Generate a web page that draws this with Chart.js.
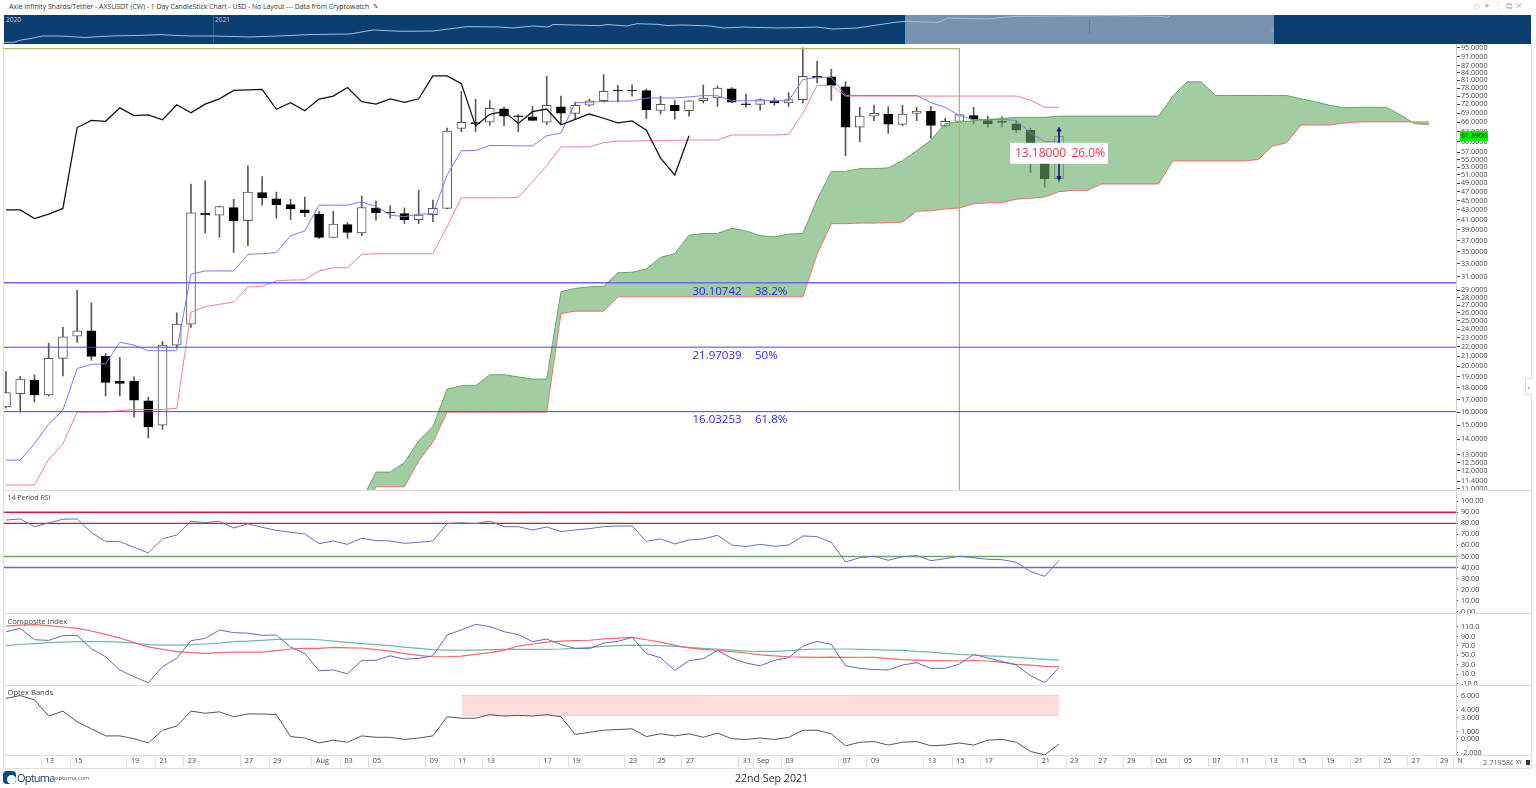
<!DOCTYPE html>
<html>
<head>
<meta charset="utf-8">
<title>AXSUSDT</title>
<script src="https://cdn.jsdelivr.net/npm/chart.js@4"></script>
<style>
  html, body { margin: 0; padding: 0; background: #fff; overflow: hidden; }
  body { width: 1536px; height: 788px; position: relative; font-family: "Open Sans", sans-serif; color: #444; }
  canvas { position: absolute; left: 0; }
  .abs { position: absolute; white-space: nowrap; }
  .rule { position: absolute; background: #dedede; }
</style>
</head>
<body>
<div class="abs" style="left:9px;top:2px;font-size:6.85px;line-height:10px;color:#333">Axie Infinity Shards/Tether - AXSUSDT (CW) - 1 Day CandleStick Chart - USD - No Layout --- Data from Cryptowatch &nbsp;✎</div>
<div class="abs" style="left:1473px;top:0;font-size:9px;line-height:12px;color:#c4c4c4;letter-spacing:3px">◇✦⋮⧉✕</div>

<!-- overview strip -->
<div class="abs" style="left:4px;top:15px;width:1527px;height:29px;background:#0a3d70"></div>
<div class="abs" style="left:905px;top:15px;width:369px;height:29px;background:#7694b2"></div>
<div class="abs" style="left:213px;top:15px;width:1px;height:29px;background:#35648f"></div>
<div class="abs" style="left:1089px;top:20px;width:1px;height:14px;background:#5f7f9d"></div>
<div class="abs" style="left:1271px;top:27px;width:3px;height:6px;background:#8a97a8"></div>
<div class="abs" style="left:6px;top:14px;font-size:6.5px;line-height:11px;color:#c3d0dd">2020</div>
<div class="abs" style="left:215px;top:14px;font-size:6.5px;line-height:11px;color:#c3d0dd">2021</div>
<canvas id="overview" width="1536" height="29" style="top:15px"></canvas>

<canvas id="main" width="1536" height="446" style="top:44px"></canvas>
<canvas id="rsi" width="1536" height="122" style="top:491px"></canvas>
<canvas id="composite" width="1536" height="71" style="top:614px"></canvas>
<canvas id="optex" width="1536" height="81" style="top:686px"></canvas>

<!-- panel rules -->
<div class="rule" style="left:3px;top:44px;width:1px;height:724px"></div>
<div class="rule" style="left:1531px;top:44px;width:1px;height:724px"></div>
<div class="rule" style="left:4px;top:490px;width:1527px;height:1px"></div>
<div class="rule" style="left:4px;top:613px;width:1527px;height:1px"></div>
<div class="rule" style="left:4px;top:685px;width:1527px;height:1px"></div>
<div class="rule" style="left:4px;top:755px;width:1527px;height:1px"></div>
<div class="rule" style="left:4px;top:768px;width:1527px;height:1px"></div>

<div class="abs" style="left:7.5px;top:493px;font-size:7px;line-height:10px">14 Period RSI</div>
<div class="abs" style="left:7.5px;top:616px;font-size:7.6px;line-height:10px">Composite Index</div>
<div class="abs" style="left:7.5px;top:687px;font-size:7.6px;line-height:10px">Optex Bands</div>

<!-- last price tag and small chrome -->
<div class="abs" style="left:1460px;top:131px;width:28px;height:10px;background:#00f000;color:#111;font-size:7px;line-height:10px;text-align:center">61.6900</div>
<div class="abs" style="left:1525px;top:378px;width:6px;height:15px;background:#fff;border:1px solid #ddd;border-right:0;font-size:8px;line-height:15px;color:#555;text-align:center">‹</div>
<div class="abs" style="left:1483px;top:757px;width:30px;overflow:hidden;font-size:7.4px;line-height:11px;color:#555">2.7195802</div>
<div class="abs" style="left:1516px;top:757px;font-size:5px;line-height:11px;color:#333">XY</div>
<div class="abs" style="left:1526px;top:760px;width:4px;height:5px;background:#333"></div>

<!-- footer -->
<div class="abs" style="left:3px;top:771px;width:13px;height:13px;border-radius:4px;background:#0a4a80"></div>
<div class="abs" style="left:7px;top:775px;width:9px;height:9px;border-radius:50%;background:#fff"></div>
<div class="abs" style="left:17px;top:771px;font-size:11px;line-height:14px;color:#1d3f66;letter-spacing:-.8px">Optuma</div>
<div class="abs" style="left:55px;top:774px;font-size:5.8px;line-height:9px;color:#555">optuma.com</div>
<div class="abs" style="left:735px;top:771px;font-size:10.6px;line-height:14px;color:#333">22nd Sep 2021</div>

<script>
// bar 0 is 10 Jul 2021, bar 74 is 22 Sep 2021, the rest is the projected cloud
const candleOpen = [16.4,17.5,18.7,17.4,20.8,23.2,23.8,21,18.6,18.6,16.9,15,22.2,24.6,42.3,41.9,43.5,40.8,46.8,45.4,44.1,43,42.1,37.6,40,38.4,43.4,42.5,42.2,41,42,43.3,64,65.9,66,70.5,68.1,67.8,66,71.2,68.9,71.7,73.3,77.1,77.1,77,69.9,71.7,69.8,73.3,74.3,77.7,72.2,72,73.2,72.5,73.7,82.6,82.4,78.5,64.4,68,68.7,65.3,68.9,69.6,64.8,66.3,68.2,66.5,66.4,65.5,63.4,57,50.1];
const candleClose = [17.6,18.8,17.4,20.8,23.1,23.8,21,18.5,18.4,16.95,14.9,22.2,24.6,42.4,42,43.7,40.8,46.9,45.6,44.1,43.2,42.4,37.6,40.1,38.5,43.5,42.4,42.4,41,41.9,43.3,63.2,66,65.5,70.6,68,67.8,66.6,71.7,69,71.7,73.3,76.8,76.9,76.9,70.2,72,69.8,73.3,74.3,78,72.8,71.9,73.7,72.5,73.7,82.6,82,79,64.4,68,68.9,65.4,68.7,69.7,65,66.3,68.5,67,65.5,65.9,63.5,58,50.1,61.69];
const candleHigh = [19.5,19.05,19.2,22.4,24.2,29,27.3,21.3,20.9,19,17.2,22.6,26,48.8,49.6,43.8,45.3,53.3,50.6,46.9,45.3,45.8,42.7,42.7,40.4,46,44.9,43.9,43.4,47.3,45.1,64.1,76.7,73.8,73.4,71.1,68.5,71.3,82.6,75,72.8,73.9,83.3,79,79.2,77.7,75,73.4,73.4,79.2,78.8,78.2,75.7,74,74.3,76.3,95,88.9,85.5,80.5,71,71.8,71.2,71.7,70.9,71.3,67.3,68.6,71,68,67.8,66.6,64,58,63.2];
const candleLow = [16.3,16,16.8,17.3,19.1,22.5,20.6,17.3,17.3,15.6,14.1,14.7,21.9,24.2,38.4,37.6,34.9,36.1,44,41.3,41,41.6,37.4,37.5,37.4,37.9,40.9,41.3,40.2,40.2,40.6,43.2,63,63,65,64.9,63,66.5,65.2,65.2,67.2,71.4,72.8,72.8,75,67.2,68.7,67,68,72.5,71.3,72.6,71,70,71.7,71.3,72.5,80,73.4,56,60,66.5,62.5,64.9,66.5,61,64.5,66,65.5,64.4,64.5,62.7,51.6,48,49.3];

const tenkan = [12.65,12.65,13.7,15.1,16.15,19.8,20.2,20.25,22.5,22.2,21.6,21.6,21.6,31.4,31.9,31.9,31.9,34.6,34.7,34.9,37.9,38.8,44,44,44,44.7,43.7,41.9,41.6,42.1,42.2,51,57.4,57.5,58.9,58.9,58.8,58.8,61.8,62.6,72.6,72.8,73,73.2,73.2,74.3,74.3,74.3,74.7,75.2,75.1,73.3,73.3,73.3,73.3,73.3,81.3,82.2,82.2,75.3,75.2,75.2,75.2,75.2,75.2,72.6,71,68.2,66.8,66.9,66.9,66.6,62.6,60,60];
const kijun = [11.2,11.2,11.2,12.7,13.7,16,16,16,16.1,16.2,16.2,16.2,16.3,26.1,26.8,27.1,27.4,29.5,29.6,30.4,30.5,30.55,31.9,32.4,32.4,34.6,34.7,34.7,34.7,34.7,34.7,39.6,45.6,45.6,45.6,45.6,45.7,49.3,53.4,58.5,58.5,58.5,59.7,60.2,60.2,60.3,60.3,60.4,60.5,60.5,60.5,62,62,62,62,62.2,68.9,79,79,75,75,75,75,75,75,75,75,75,75,75,75,75,73.5,71,71];
const chikou = [43,43,41.2,42.1,43.3,64.3,66.6,66.3,70.8,68.2,68.4,66.8,71.9,69.1,72.1,74,77.1,77.3,77.5,70.3,72.6,69.8,73.9,75,78.2,73,72.1,74,72.7,74,82.8,82.8,79.7,64.8,68.6,69.6,65.6,69.5,70.4,65.2,66.9,68.7,67.3,65.8,66.4,63.5,55.4,51,61.8];
const cloudStart = 25;
const senkouA = [10.4,11.93,11.93,12.5,13.9,14.9,17.9,18.2,18.2,19.2,19.2,19,18.8,18.8,28.8,29.3,29.5,29.6,31.6,31.7,32.2,34.1,34.7,38,38.3,38.3,39.3,38.8,37.9,37.7,38.2,38.3,45.2,51.9,51.9,52.6,52.6,52.8,54.7,57.4,60.5,65.6,66,66.5,66.9,67.2,67.6,67.6,67.6,68,68,68,68,68,68,68,68,75,80.4,80.4,75.2,75.2,75.2,75.2,75.2,75.2,74,73,71.7,70.8,71,71,71,68.4,65.5,65.3];
const senkouB = [9.5,11.1,11.1,11.1,12.6,13.8,16,16,16,16,16,16,16,16,25.9,26.2,26.2,26.2,28.1,28.1,28.1,28.1,28.1,28.1,28.1,28.1,28.1,28.1,28.1,28.1,28.1,28.1,34.6,40.2,40.2,40.3,40.3,40.4,40.5,42.7,42.8,43.2,43.4,44.3,44.5,44.6,45.3,45.5,45.8,47,47.3,47.3,48.8,48.8,48.8,48.8,48.8,54.6,54.6,54.6,54.6,54.6,54.6,55,58.7,59.7,65.1,65.1,65.1,65.7,66.1,66.1,66.1,66.1,66.1,66.1];

const fibLevels = [30.10742, 21.97039, 16.03253];
const fibPercents = ['38.2%', '50%', '61.8%'];
const boxBar = 67;
const boxTop = 94.6;
const measureFrom = 63.6;
const measureTo = 50.3;
const measureText = ['13.18000', '26.0%'];

const rsiValues = [83,84,77,80.4,83.7,84,71.6,63.7,63.4,58.3,53.2,65.9,69.5,81.9,80.7,81.9,75.8,79.5,76.4,73.7,71.9,70.4,61.6,64,61,66.5,64.4,64,61.9,62.8,64,79.8,80.4,79.8,81.9,77,77,74,76.7,72.5,74,75.2,77,77.6,77.6,63.7,65.9,61.3,65,65.9,69.2,60.4,58.9,61,59.2,60.4,68.6,68,62.8,45,48.9,50.2,46.5,49.8,50.8,46.2,48,50.2,48.9,47.4,47.1,44.7,36.3,32,46.5];
const rsiLevels = [90, 80, 50, 40];

const compositeValues = [100,107,83,81.7,91.6,92.3,64,47,19,4.8,-8,26,43.6,81,86,103.6,98,97,92.3,93,67.6,54,17.5,19,11,39.4,39.4,49,42,43.6,49,93,104,115.6,111,100,94,79,84.5,73,64.8,64,76,79.6,88,54,45,18,38.7,43,60.5,43.6,33.7,28,39.4,45,69.7,79.6,73,28,22.5,20,19,29.5,34.4,22.5,22.5,31.6,52,44.3,37,29.5,7,-8,24];
const compositeFast = [112,114,115,113,110,107,101.5,94.4,86.6,76.8,68,62.7,57.7,55.6,54,55.6,57,57,57,59.8,63.4,64.8,64.8,67,66,65.5,62,59,53.5,50,47,47,48.5,52,55.6,60.5,69.7,74,78,80,81,82,85,86.6,88,83,78,71,66,62.7,60.5,58,55,51,49,47,46.4,45.7,46.4,45.7,46,45.7,43,40.8,40,38.7,38.7,38,39.4,38,35,31,29.5,26.7,26];
const compositeSlow = [70.4,73,74.7,76.8,78,79,79,79,78,76,72.5,71.8,71.8,72.5,74,76,79,80,81.7,83.8,84.5,84.5,83,80,77.5,74.7,72.5,70.4,67.6,64.8,62,61,61,61,62,62.7,62.7,62.7,62.7,63.4,64.8,66.9,69,70.4,71.8,71,70.4,69,67,64.8,63.4,61,59,58.4,58.4,59.8,62,63.4,63.4,63.4,62.7,62,61,60.5,58.4,57,54,52,50.7,49,48,45.7,43.6,41.5,40];

const optexValues = [5.7,6.1,5.5,3.2,3.9,2.4,1.4,.4,.4,0,-.6,1.2,1.8,3.9,3.6,3.8,3.1,3.5,3.5,3.4,.3,.1,-.6,-.2,-.5,.4,.2,.2,-.1,.1,.4,3.1,2.9,2.9,3.4,3.2,3.3,3.2,3.4,3.1,.6,.9,1.2,1.3,1.4,.3,.7,.4,.7,.2,.8,0,-.1,.1,-.1,.2,1.2,1.2,.7,-1,-.5,-.4,-.9,-.5,-.4,-1,-.9,-.6,-.9,-.2,-.1,-.5,-1.8,-2.3,-.75];
const optexBandBars = [32, 74];
const optexBandTop = 6.1;
const optexBandBottom = 3.3;

const priceTicks = [95,91,87,84,81,78,75,72,69,66,63,60,57,55,53,51,49,47,45,43,41,39,37,35,33,31,29,28,27,26,25,24,23,22,21,20,19,18,17,16,15,14,13,12.5,12,11.4,11];
const rsiTicks = [100,90,80,70,60,50,40,30,20,10,0];
const compositeTicks = [110,90,70,50,30,10,-10];
const optexTicks = [6,4,3,1,0,-2];

const dateTickBars = [2.5,4.5,8.5,10.5,12.5,16.5,18.5,21.5,23.5,25.5,29.5,31.5,33.5,37.5,39.5,43.5,45.5,47.5,51.5,52.5,54.5,58.5,60.5,64.5,66.5,68.5,72.5,74.5,76.5,78.5,80.5,82.5,84.5,86.5,88.5,90.5,92.5,94.5,96.5,98.5,100.5,101.7];
const dateTickLabels = ['13','15','19','21','23','27','29','Aug','03','05','09','11','13','17','19','23','25','27','31','Sep','03','07','09','13','15','17','21','23','27','29','Oct','05','07','11','13','15','19','21','25','27','29','N'];

const overviewTime = [4,14,21,30,42,60,85,110,135,160,190,213,250,290,310,350,373,400,433,467,500,513,533,548,553,600,607,627,637,657,667,683,710,723,743,777,800,817,833,857,897,907,927,938,948,987,1013,1063,1110,1163,1167,1170];
const overviewLevel = [1.7,1.7,4,5.3,8,8,6.5,8,8.5,9.3,8,8,7,8.5,9.5,10,14,12.7,13,17.3,17,16,18,17,19.5,18.3,19.5,18,20.3,19.7,18.5,19,18,16,17,16,16.5,17,15,16,22,22.5,22,21.5,26,25,27.5,28,28.5,27.5,26.5,28];

// chart helpers
const xMin = -0.14;
const xMax = 101.9;
const cloudColor = 'rgba(100,170,100,0.6)';

function series(values, start, color, width, order) {
  return {
    type: 'line',
    data: values.map((v, i) => ({ x: start + i, y: v })),
    borderColor: color,
    borderWidth: width,
    pointRadius: 0,
    tension: 0,
    fill: false,
    order: order
  };
}

function flatLine(value, fromBar, toBar, color, width, order) {
  return {
    type: 'line',
    data: [{ x: fromBar, y: value }, { x: toBar, y: value }],
    borderColor: color,
    borderWidth: width,
    pointRadius: 0,
    fill: false,
    order: order
  };
}

function yAxis(ticks, decimals, type, min, max, tickLength, padding) {
  return {
    type: type,
    position: 'right',
    min: min,
    max: max,
    afterBuildTicks: scale => { scale.ticks = ticks.map(v => ({ value: v })); },
    afterFit: scale => { scale.width = 80; scale.paddingTop = 0; scale.paddingBottom = 0; },
    border: { color: '#cfcfcf' },
    grid: { drawOnChartArea: false, tickLength: tickLength, color: '#444' },
    ticks: {
      autoSkip: false,
      maxRotation: 0,
      padding: padding,
      color: '#444',
      font: { family: 'Open Sans', size: 7.2 },
      callback: v => Number(v).toFixed(decimals)
    }
  };
}

function hiddenX() {
  return {
    type: 'linear',
    min: xMin,
    max: xMax,
    offset: false,
    display: false,
    grid: { offset: false },
    afterFit: scale => { scale.paddingLeft = 0; scale.paddingRight = 0; }
  };
}

function panel(id, datasets, scales, plugins) {
  return new Chart(document.getElementById(id), {
    type: 'line',
    data: { datasets: datasets },
    options: {
      responsive: false,
      animation: false,
      events: [],
      layout: { autoPadding: false, padding: { left: 4, right: 0, top: 0, bottom: 0 } },
      plugins: { legend: { display: false }, tooltip: { enabled: false } },
      scales: scales
    },
    plugins: plugins || []
  });
}

// fib labels and the measure box sit on top of the price panel
const priceLabels = {
  id: 'priceLabels',
  afterDatasetsDraw(chart) {
    const ctx = chart.ctx;
    const yScale = chart.scales.y;
    const xScale = chart.scales.x;
    ctx.save();
    ctx.font = '11.5px "Open Sans"';
    ctx.textBaseline = 'middle';
    ctx.fillStyle = '#2a2ae6';
    fibLevels.forEach((level, i) => {
      const y = yScale.getPixelForValue(level) + 8.5;
      ctx.textAlign = 'left';
      ctx.fillText(level.toFixed(5), 692.5, y);
      ctx.fillText(fibPercents[i], 755, y);
    });
    const cx = xScale.getPixelForValue(74);
    const cy = (yScale.getPixelForValue(measureFrom) + yScale.getPixelForValue(measureTo)) / 2;
    ctx.fillStyle = '#fff';
    ctx.fillRect(cx - 49, cy - 11, 98, 21);
    ctx.fillStyle = '#f23a48';
    ctx.font = '12px "Open Sans"';
    ctx.fillText(measureText[0], cx - 44, cy);
    ctx.fillText(measureText[1], cx + 12.5, cy);
    ctx.restore();
  }
};

const bars = candleOpen.map((o, i) => i);

const mainDatasets = [
  {
    type: 'bar',
    data: bars.map(i => ({ x: i, y: [candleLow[i], candleHigh[i]] })),
    backgroundColor: '#5a5a5a',
    barThickness: 1,
    grouped: false,
    order: 10
  },
  {
    type: 'bar',
    data: bars.map(i => ({ x: i, y: [candleOpen[i], candleClose[i]] })),
    backgroundColor: bars.map(i => candleClose[i] >= candleOpen[i] ? '#fff' : '#000'),
    borderColor: bars.map(i => candleClose[i] >= candleOpen[i] ? '#555' : '#000'),
    borderWidth: 1,
    borderSkipped: false,
    barThickness: 9,
    grouped: false,
    order: 9
  },
  Object.assign(series(senkouA, cloudStart, '#62aa62', 1, 8), {
    fill: { target: '+1', above: cloudColor, below: cloudColor }
  }),
  series(senkouB, cloudStart, '#f27070', 1, 7),
  series(tenkan, 0, '#7a7af8', 1, 5),
  series(kijun, 0, '#f27f9c', 1, 5),
  series(chikou, 0, '#111', 1.25, 4),
  {
    type: 'line',
    data: [{ x: xMin, y: boxTop }, { x: boxBar, y: boxTop }, { x: boxBar, y: 10 }],
    borderColor: '#b4b46a',
    borderWidth: 1.3,
    pointRadius: 0,
    fill: false,
    order: 6
  },
  {
    type: 'line',
    data: [{ x: 74, y: measureFrom }, { x: 74, y: measureTo }],
    borderColor: '#10108c',
    borderWidth: 0.8,
    pointRadius: 2.4,
    pointStyle: 'triangle',
    pointRotation: [0, 180],
    pointBackgroundColor: '#10108c',
    pointBorderColor: '#10108c',
    fill: false,
    order: 3
  }
];
fibLevels.forEach((level, i) => {
  mainDatasets.push(flatLine(level, xMin, xMax, i === 0 ? '#6a6af4' : '#4444f0', i === 0 ? 1.4 : 1, 2));
});

panel('main', mainDatasets, {
  x: hiddenX(),
  y: yAxis(priceTicks, 4, 'logarithmic', 10.93, 96.75, 4, 1)
}, [priceLabels]);

const rsiColors = ['#d8143c', '#d8143c', '#5fae62', '#6a6ac4'];
const rsiDatasets = rsiLevels.map((level, i) => flatLine(level, xMin, xMax, rsiColors[i], 1.4, 3));
rsiDatasets.push(series(rsiValues, 0, '#6c6cc0', 1, 1));
panel('rsi', rsiDatasets, {
  x: hiddenX(),
  y: yAxis(rsiTicks, 2, 'linear', -1.2, 109.3, 2, 3)
});

panel('composite', [
  series(compositeSlow, 0, '#6db9ad', 1.2, 3),
  series(compositeFast, 0, '#f26a6a', 1.2, 2),
  series(compositeValues, 0, '#6868bc', 1, 1)
], {
  x: hiddenX(),
  y: yAxis(compositeTicks, 1, 'linear', -12.75, 137.5, 2, 3)
});

panel('optex', [
  Object.assign(flatLine(optexBandTop, optexBandBars[0], optexBandBars[1], '#ffc4c4', 1, 3), {
    fill: { target: '+1', above: 'rgba(255,190,190,0.5)', below: 'rgba(255,190,190,0.5)' }
  }),
  flatLine(optexBandBottom, optexBandBars[0], optexBandBars[1], '#ffc4c4', 1, 3),
  series(optexValues, 0, '#555', 1, 1)
], {
  x: {
    type: 'linear',
    min: xMin,
    max: xMax,
    afterBuildTicks: scale => { scale.ticks = dateTickBars.map(v => ({ value: v })); },
    afterFit: scale => { scale.height = 12; scale.paddingLeft = 0; scale.paddingRight = 0; },
    border: { color: '#dedede' },
    grid: { drawOnChartArea: false, tickLength: 12, color: '#dedede' },
    ticks: {
      autoSkip: false,
      maxRotation: 0,
      align: 'start',
      labelOffset: 4,
      padding: -10,
      color: '#444',
      font: { family: 'Open Sans', size: 7.2 },
      callback: v => dateTickLabels[dateTickBars.indexOf(v)]
    }
  },
  y: yAxis(optexTicks, 3, 'linear', -2.3, 7.45, 2, 3)
});

// overview strip across the top
new Chart(document.getElementById('overview'), {
  type: 'line',
  data: {
    datasets: [{
      data: overviewTime.map((t, i) => ({ x: t, y: overviewLevel[i] })),
      borderColor: '#a9bdd1',
      borderWidth: 1,
      pointRadius: 0,
      tension: 0,
      fill: false
    }]
  },
  options: {
    responsive: false,
    animation: false,
    events: [],
    layout: { autoPadding: false, padding: 0 },
    plugins: { legend: { display: false }, tooltip: { enabled: false } },
    scales: {
      x: { type: 'linear', min: 0, max: 1536, display: false },
      y: { type: 'linear', min: 0, max: 29, display: false }
    }
  }
});
</script>
</body>
</html>
